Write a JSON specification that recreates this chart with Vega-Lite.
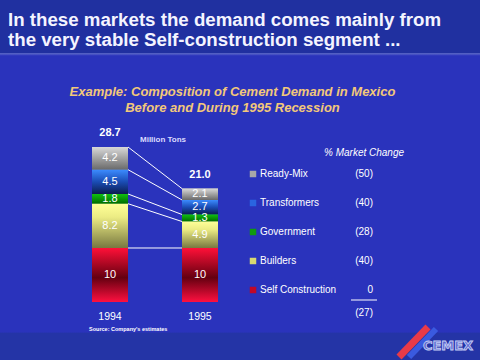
{
  "$schema": "https://vega.github.io/schema/vega-lite/v6.json",
  "width": 480,
  "height": 360,
  "autosize": {"type": "none"},
  "padding": 0,
  "background": "#2a33bc",
  "title": {
    "text": ["In these markets the demand comes mainly from", "the very stable Self-construction segment ..."],
    "anchor": "start",
    "frame": "group",
    "orient": "top",
    "offset": -50,
    "dx": 8,
    "font": "Liberation Sans",
    "fontSize": 18.7,
    "fontWeight": "bold",
    "color": "#f4f4ff",
    "lineHeight": 20
  },
  "datasets": {
    "demand": [
      {"year": "1994", "segment": "Self Construction", "tons": 10, "order": 1},
      {"year": "1994", "segment": "Builders", "tons": 8.2, "order": 2},
      {"year": "1994", "segment": "Government", "tons": 1.8, "order": 3},
      {"year": "1994", "segment": "Transformers", "tons": 4.5, "order": 4},
      {"year": "1994", "segment": "Ready-Mix", "tons": 4.2, "order": 5},
      {"year": "1995", "segment": "Self Construction", "tons": 10, "order": 1},
      {"year": "1995", "segment": "Builders", "tons": 4.9, "order": 2},
      {"year": "1995", "segment": "Government", "tons": 1.3, "order": 3},
      {"year": "1995", "segment": "Transformers", "tons": 2.7, "order": 4},
      {"year": "1995", "segment": "Ready-Mix", "tons": 2.1, "order": 5}
    ],
    "change": [
      {"segment": "Ready-Mix", "measure": "% Market Change", "change": "(50)"},
      {"segment": "Transformers", "measure": "% Market Change", "change": "(40)"},
      {"segment": "Government", "measure": "% Market Change", "change": "(28)"},
      {"segment": "Builders", "measure": "% Market Change", "change": "(40)"},
      {"segment": "Self Construction", "measure": "% Market Change", "change": "0"},
      {"segment": "Total", "measure": "% Market Change", "change": "(27)"}
    ]
  },
  "layer": [
    {
      "data": {"name": "demand"},
      "layer": [
        {
          "mark": {"type": "bar"},
          "encoding": {
            "x": {
              "field": "year", "type": "nominal",
              "scale": {"type": "band", "domain": ["1994", "1995"], "range": [65, 245], "paddingInner": 0.6, "paddingOuter": 0.3},
              "axis": {
                "orient": "top", "labels": false, "ticks": false, "domain": false, "grid": false,
                "title": ["Example: Composition of Cement Demand in Mexico", "Before and During 1995 Recession"],
                "titleX": 232, "titleY": 95, "titleAlign": "center", "titleBaseline": "alphabetic",
                "titleFont": "Liberation Sans", "titleFontSize": 13, "titleFontWeight": "bold", "titleFontStyle": "italic",
                "titleColor": "#f2c87a", "titleLineHeight": 16
              }
            },
            "y": {
              "field": "tons", "type": "quantitative", "stack": "zero",
              "scale": {"domain": [0, 28.7], "range": [302, 147], "nice": false},
              "axis": null
            },
            "color": {
              "field": "segment", "type": "nominal",
              "sort": ["Ready-Mix", "Transformers", "Government", "Builders", "Self Construction"],
              "scale": {
                "domain": ["Ready-Mix", "Transformers", "Government", "Builders", "Self Construction"],
                "range": ["#a8a8a8", "#2a64e0", "#109a10", "#d8d870", "#c00828"]
              },
              "legend": {
                "orient": "none", "legendX": 248, "legendY": 169, "title": null, "direction": "vertical",
                "symbolType": "square", "symbolSize": 42, "symbolStrokeWidth": 0, "symbolOpacity": 1,
                "labelColor": "#ffffff", "labelFont": "Liberation Sans", "labelFontSize": 10, "labelOffset": 2,
                "rowPadding": 19, "labelLimit": 200
              }
            },
            "order": {"field": "order", "type": "quantitative"}
          }
        },
        {
          "transform": [
            {"stack": "tons", "groupby": ["year"], "sort": [{"field": "order", "order": "ascending"}], "as": ["y0", "y1"]},
            {"filter": "datum.segment === 'Ready-Mix'"}
          ],
          "mark": {"type": "bar", "color": {"gradient": "linear", "x1": 0, "y1": 0, "x2": 0, "y2": 1, "stops": [{"offset": 0, "color": "#d8d8d8"}, {"offset": 1, "color": "#6a6a6a"}]}},
          "encoding": {
            "x": {"field": "year", "type": "nominal"},
            "y": {"field": "y0", "type": "quantitative"},
            "y2": {"field": "y1"}
          }
        },
        {
          "transform": [
            {"stack": "tons", "groupby": ["year"], "sort": [{"field": "order", "order": "ascending"}], "as": ["y0", "y1"]},
            {"filter": "datum.segment === 'Transformers'"}
          ],
          "mark": {"type": "bar", "color": {"gradient": "linear", "x1": 0, "y1": 0, "x2": 0, "y2": 1, "stops": [{"offset": 0, "color": "#3c8cff"}, {"offset": 0.5, "color": "#1a4cb4"}, {"offset": 1, "color": "#0c1c50"}]}},
          "encoding": {
            "x": {"field": "year", "type": "nominal"},
            "y": {"field": "y0", "type": "quantitative"},
            "y2": {"field": "y1"}
          }
        },
        {
          "transform": [
            {"stack": "tons", "groupby": ["year"], "sort": [{"field": "order", "order": "ascending"}], "as": ["y0", "y1"]},
            {"filter": "datum.segment === 'Government'"}
          ],
          "mark": {"type": "bar", "color": {"gradient": "linear", "x1": 0, "y1": 0, "x2": 0, "y2": 1, "stops": [{"offset": 0, "color": "#10c010"}, {"offset": 1, "color": "#006a00"}]}},
          "encoding": {
            "x": {"field": "year", "type": "nominal"},
            "y": {"field": "y0", "type": "quantitative"},
            "y2": {"field": "y1"}
          }
        },
        {
          "transform": [
            {"stack": "tons", "groupby": ["year"], "sort": [{"field": "order", "order": "ascending"}], "as": ["y0", "y1"]},
            {"filter": "datum.segment === 'Builders'"}
          ],
          "mark": {"type": "bar", "color": {"gradient": "linear", "x1": 0, "y1": 0, "x2": 0, "y2": 1, "stops": [{"offset": 0, "color": "#ffff98"}, {"offset": 0.3, "color": "#ecec84"}, {"offset": 1, "color": "#787840"}]}},
          "encoding": {
            "x": {"field": "year", "type": "nominal"},
            "y": {"field": "y0", "type": "quantitative"},
            "y2": {"field": "y1"}
          }
        },
        {
          "transform": [
            {"stack": "tons", "groupby": ["year"], "sort": [{"field": "order", "order": "ascending"}], "as": ["y0", "y1"]},
            {"filter": "datum.segment === 'Self Construction'"}
          ],
          "mark": {"type": "bar", "color": {"gradient": "linear", "x1": 0, "y1": 0, "x2": 0, "y2": 1, "stops": [{"offset": 0, "color": "#ff1038"}, {"offset": 0.55, "color": "#640010"}, {"offset": 1, "color": "#ff1040"}]}},
          "encoding": {
            "x": {"field": "year", "type": "nominal"},
            "y": {"field": "y0", "type": "quantitative"},
            "y2": {"field": "y1"}
          }
        },
        {
          "mark": {"type": "text", "color": "#ffffff", "font": "Liberation Sans", "fontSize": 11, "baseline": "middle"},
          "encoding": {
            "x": {"field": "year", "type": "nominal", "bandPosition": 0.5},
            "y": {"field": "tons", "type": "quantitative", "stack": "zero", "bandPosition": 0.5},
            "detail": {"field": "segment"},
            "order": {"field": "order", "type": "quantitative"},
            "text": {"field": "tons", "type": "quantitative"}
          }
        },
        {
          "transform": [
            {"window": [{"op": "sum", "field": "tons", "as": "cum"}], "groupby": ["year"], "sort": [{"field": "order", "order": "ascending"}], "frame": [null, 0]},
            {"pivot": "year", "value": "cum", "groupby": ["segment"]}
          ],
          "mark": {"type": "rule", "color": "#ffffff", "strokeWidth": 1},
          "encoding": {
            "x": {"datum": "1994", "type": "nominal", "bandPosition": 1},
            "x2": {"datum": "1995", "bandPosition": 0},
            "y": {"field": "1994", "type": "quantitative"},
            "y2": {"field": "1995"}
          }
        },
        {
          "transform": [{"aggregate": [{"op": "sum", "field": "tons", "as": "total"}], "groupby": ["year"]}],
          "mark": {"type": "text", "color": "#ffffff", "font": "Liberation Sans", "fontSize": 11, "fontWeight": "bold", "baseline": "middle", "dy": -14},
          "encoding": {
            "x": {"field": "year", "type": "nominal", "bandPosition": 0.5},
            "y": {"field": "total", "type": "quantitative"},
            "text": {"field": "total", "type": "quantitative", "format": ".1f"}
          }
        },
        {
          "transform": [{"aggregate": [{"op": "sum", "field": "tons", "as": "total"}], "groupby": ["year"]}],
          "mark": {"type": "text", "color": "#ffffff", "font": "Liberation Sans", "fontSize": 10.5, "baseline": "middle", "dy": 15},
          "encoding": {
            "x": {"field": "year", "type": "nominal", "bandPosition": 0.5},
            "y": {"datum": 0, "type": "quantitative"},
            "text": {"field": "year"}
          }
        },
        {
          "transform": [
            {"aggregate": [{"op": "sum", "field": "tons", "as": "total"}], "groupby": ["year"]},
            {"filter": "datum.year === '1994'"}
          ],
          "mark": {"type": "text", "text": "Million Tons", "color": "#dcdcff", "font": "Liberation Sans", "fontSize": 8, "fontWeight": "bold", "align": "left", "baseline": "middle", "dx": 12, "dy": -7},
          "encoding": {
            "x": {"field": "year", "type": "nominal", "bandPosition": 1},
            "y": {"field": "total", "type": "quantitative"}
          }
        },
        {
          "transform": [
            {"aggregate": [{"op": "sum", "field": "tons", "as": "total"}], "groupby": ["year"]},
            {"filter": "datum.year === '1994'"}
          ],
          "mark": {"type": "text", "text": "Source: Company's estimates", "color": "#ffffff", "font": "Liberation Sans", "fontSize": 5.5, "fontWeight": "bold", "align": "left", "baseline": "middle", "dx": -3, "dy": 27},
          "encoding": {
            "x": {"field": "year", "type": "nominal", "bandPosition": 0},
            "y": {"datum": 0, "type": "quantitative"}
          }
        }
      ]
    },
    {
      "data": {"name": "change"},
      "layer": [
        {
          "transform": [{"filter": "datum.segment !== 'Total'"}],
          "mark": {"type": "text", "align": "right", "baseline": "middle", "dx": 9, "color": "#ffffff", "font": "Liberation Sans", "fontSize": 10},
          "encoding": {
            "x": {
              "field": "measure", "type": "nominal", "bandPosition": 0.5,
              "scale": {"type": "band", "range": [351, 377], "paddingInner": 0, "paddingOuter": 0},
              "axis": {
                "orient": "top", "title": null, "ticks": false, "domain": false, "grid": false, "offset": -157,
                "labelPadding": 0, "labelColor": "#ffffff", "labelFont": "Liberation Sans", "labelFontSize": 10,
                "labelFontStyle": "italic", "labelAngle": 0, "labelLimit": 0
              }
            },
            "y": {
              "field": "segment", "type": "nominal",
              "scale": {"type": "point", "domain": ["Ready-Mix", "Transformers", "Government", "Builders", "Self Construction"], "range": [174, 290], "padding": 0},
              "axis": null
            },
            "text": {"field": "change"}
          }
        },
        {
          "transform": [{"filter": "datum.segment === 'Total'"}],
          "mark": {"type": "text", "align": "right", "baseline": "middle", "dx": 9, "yOffset": 23, "color": "#ffffff", "font": "Liberation Sans", "fontSize": 10},
          "encoding": {
            "x": {"field": "measure", "type": "nominal", "bandPosition": 0.5},
            "y": {"datum": "Self Construction", "type": "nominal"},
            "text": {"field": "change"}
          }
        },
        {
          "transform": [{"filter": "datum.segment === 'Total'"}],
          "mark": {"type": "rule", "color": "#ffffff", "strokeWidth": 1, "yOffset": 10},
          "encoding": {
            "x": {"field": "measure", "type": "nominal", "bandPosition": 0},
            "x2": {"field": "measure", "bandPosition": 1},
            "y": {"datum": "Self Construction", "type": "nominal"}
          }
        },
        {
          "transform": [{"filter": "datum.segment === 'Total'"}],
          "mark": {"type": "rule", "color": "#e83a48", "strokeWidth": 7, "strokeCap": "butt", "xOffset": 35, "x2Offset": 64, "yOffset": 67, "y2Offset": 37},
          "encoding": {
            "x": {"field": "measure", "type": "nominal", "bandPosition": 0.5},
            "x2": {"field": "measure", "bandPosition": 0.5},
            "y": {"datum": "Self Construction", "type": "nominal"},
            "y2": {"datum": "Self Construction"}
          }
        },
        {
          "transform": [{"filter": "datum.segment === 'Total'"}],
          "mark": {"type": "rule", "color": "#3a5ae0", "strokeWidth": 6, "strokeCap": "butt", "xOffset": 45, "x2Offset": 72, "yOffset": 67, "y2Offset": 39},
          "encoding": {
            "x": {"field": "measure", "type": "nominal", "bandPosition": 0.5},
            "x2": {"field": "measure", "bandPosition": 0.5},
            "y": {"datum": "Self Construction", "type": "nominal"},
            "y2": {"datum": "Self Construction"}
          }
        },
        {
          "transform": [{"filter": "datum.segment === 'Total'"}],
          "mark": {"type": "text", "text": "CEMEX", "align": "center", "baseline": "middle", "dx": 84, "yOffset": 56, "fill": "#5a66d0", "stroke": "#c4ccf4", "strokeWidth": 0.9, "font": "DejaVu Sans", "fontSize": 13, "fontWeight": "bold"},
          "encoding": {
            "x": {"field": "measure", "type": "nominal", "bandPosition": 0.5},
            "y": {"datum": "Self Construction", "type": "nominal"}
          }
        }
      ]
    }
  ],
  "resolve": {"scale": {"x": "independent", "y": "independent"}, "axis": {"x": "independent", "y": "independent"}},
  "config": {
    "view": {
      "stroke": null,
      "fill": {
        "gradient": "linear", "x1": 0, "y1": 0, "x2": 0, "y2": 1,
        "stops": [
          {"offset": 0, "color": "#2030a0"},
          {"offset": 0.146, "color": "#2030a0"},
          {"offset": 0.149, "color": "#5a66c8"},
          {"offset": 0.155, "color": "#2a33bc"},
          {"offset": 0.922, "color": "#2a33bc"},
          {"offset": 0.926, "color": "#2434a6"},
          {"offset": 1, "color": "#2434a6"}
        ]
      }
    },
    "axis": {"grid": false},
    "text": {"font": "Liberation Sans"}
  }
}
